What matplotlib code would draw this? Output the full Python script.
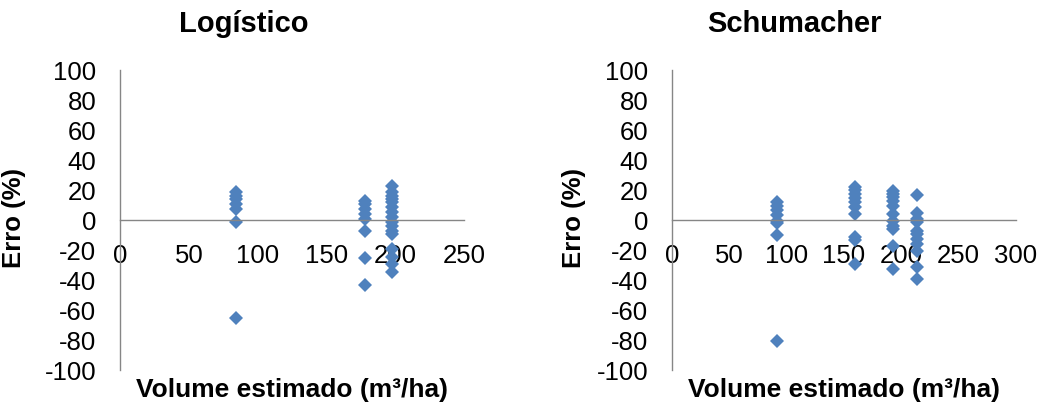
import matplotlib
matplotlib.use('Agg')
import matplotlib.pyplot as plt

plt.rcParams['font.family'] = ['Liberation Sans', 'DejaVu Sans']
plt.rcParams['axes.unicode_minus'] = False

# Logístico: volume estimado por grupo e erros (%)
log_vol = [84, 178, 197.5]
log_err = [
    [18.4, 16.2, 14.2, 10.9, 7.5, -1.6, -65.6],
    [12.9, 10.7, 7.3, 4.0, 0.7, -7.1, -25.3, -43.3],
    [22.9, 18.4, 16.2, 14.0, 11.7, 8.4, 5.1, 1.7, -1.6, -3.8, -7.1, -9.3,
     -19.3, -24.9, -29.3, -34.9],
]

# Schumacher
sch_vol = [91.4, 159.7, 193, 214]
sch_err = [
    [11.7, 9.5, 6.7, 3.5, -0.5, -2.3, -9.8, -80.5],
    [22.2, 20.0, 17.3, 14.7, 11.7, 8.9, 4.0, -11.6, -13.3, -29.3],
    [19.5, 17.3, 15.1, 12.9, 9.5, 4.0, -0.5, -3.8, -6.0, -17.1, -32.7],
    [16.9, 4.4, 0.7, -1.6, -7.1, -9.3, -12.7, -16.0, -20.5, -31.1, -39.3],
]

titles = ['Logístico', 'Schumacher']
x_max = [250, 300]
xlabel = 'Volume estimado (m³/ha)'
ylabel = 'Erro (%)'

W, H = 1044, 407
fig = plt.figure(figsize=(W / 100, H / 100), dpi=100)

axes_px = [(120, 37, 344, 300), (672, 37, 344, 300)]
title_x = [244, 794]
ylabel_x = [14, 574]

gray = '#868686'
blue = '#4F81BD'

for i, (vols, errs) in enumerate([(log_vol, log_err), (sch_vol, sch_err)]):
    l, b, w, h = axes_px[i]
    ax = fig.add_axes([l / W, b / H, w / W, h / H])
    for v, e in zip(vols, errs):
        ax.plot([v] * len(e), e, linestyle='none', marker='D', ms=7.5,
                color=blue, markeredgewidth=0)
    ax.set_xlim(0, x_max[i])
    ax.set_ylim(-100, 100)
    ax.set_yticks(range(-100, 101, 20))
    ax.set_xticks(range(0, x_max[i] + 1, 50))
    for s in ['top', 'right']:
        ax.spines[s].set_visible(False)
    ax.spines['bottom'].set_position(('data', 0))
    for s in ['left', 'bottom']:
        ax.spines[s].set_color(gray)
        ax.spines[s].set_linewidth(1.0)
    ax.tick_params(axis='both', length=0, labelsize=18.5)
    ax.tick_params(axis='y', pad=17)
    ax.tick_params(axis='x', pad=17)
    ax.patch.set_alpha(0)

    fig.text(title_x[i] / W, (H - 32) / H, titles[i], fontsize=21,
             fontweight='bold', ha='center', va='baseline')
    fig.text(ylabel_x[i] / W, (H - 218) / H, ylabel, fontsize=18.5,
             fontweight='bold', rotation=90, ha='center', va='center')
    fig.text((l + w / 2) / W, (H - 397) / H, xlabel, fontsize=19,
             fontweight='bold', ha='center', va='baseline')

fig.savefig('out.png', dpi=100)
